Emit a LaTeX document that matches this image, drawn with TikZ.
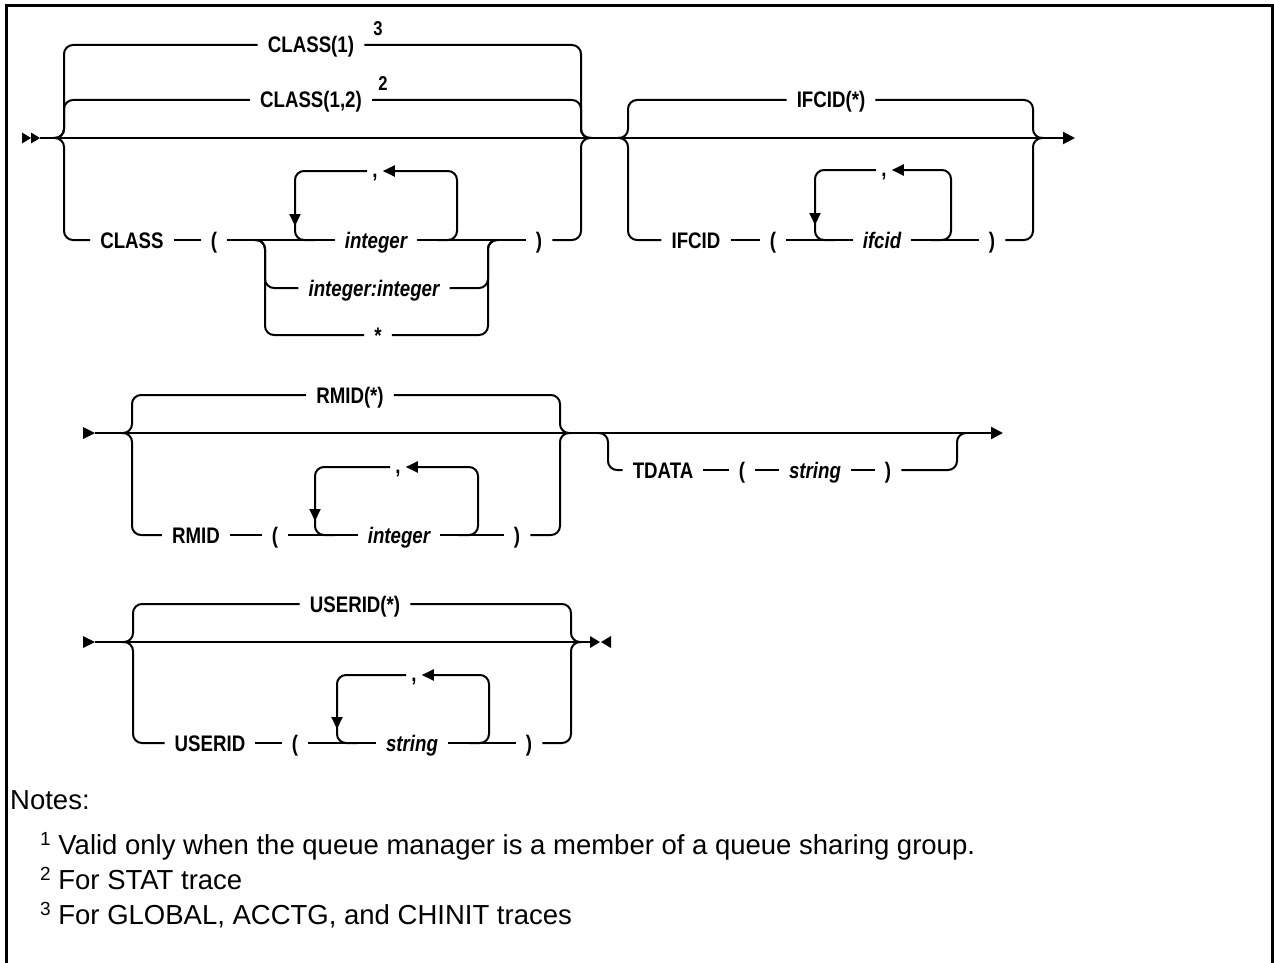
\documentclass[tikz,border=0pt]{standalone}
\usepackage{fontspec}
\setmainfont{Liberation Sans}
\newfontfamily\lblfont[FakeStretch=0.83]{Liberation Sans}
\usetikzlibrary{arrows.meta}
\tikzset{
  rail/.style={line width=2pt, rounded corners=9pt},
  lbl/.style={font=\lblfont\fontsize{22.5}{25}\selectfont\bfseries, text height=16pt, text depth=0pt, inner ysep=0pt, inner xsep=10pt},
  var/.style={lbl, font=\lblfont\fontsize{22.5}{25}\selectfont\bfseries\itshape},
  supl/.style={font=\lblfont\fontsize{20}{20}\selectfont\bfseries, inner sep=0pt},
  commalbl/.style={font=\lblfont\fontsize{22.5}{25}\selectfont\bfseries, text height=12pt, text depth=0pt, inner ysep=0pt, inner xsep=5pt},
  looptip/.style={-{Triangle[length=12pt,width=11pt]}},
  endtip/.style={-{Triangle[length=12pt,width=12pt]}},
  note/.style={font=\fontsize{27.5}{30}\selectfont, anchor=west, inner sep=0pt, text height=19pt, text depth=0pt},
  frame/.style={line width=3pt}
}
\newcommand{\notesup}[1]{\raisebox{9pt}{\fontsize{19}{19}\selectfont #1}}
\begin{document}
\begin{tikzpicture}[x=1pt,y=-1pt]
\useasboundingbox (0,0) rectangle (1274,963);
\draw[frame] (6,963) -- (6,6) -- (1272,6) -- (1272,963);

% ================= Row 1 =================
\coordinate (s1) at (40,138);
\coordinate (e1) at (1075,138);
\fill (22,132.5) -- (31,138) -- (22,143.5) -- cycle;
\fill (31,132.5) -- (40,138) -- (31,143.5) -- cycle;
\draw[line width=2pt, endtip] (s1) -- (e1);

% CLASS group
\coordinate (cj1) at (54,138);
\coordinate (cj2) at (591,138);
\node[lbl] (c1) at (311,45) {CLASS(1)};
\node[supl] (n3) at (378,29) {3};
\node[lbl] (c12) at (311,100) {CLASS(1,2)};
\node[supl] (n2) at (383,84) {2};
\node[lbl] (cls) at (132,240) {CLASS};
\node[lbl] (cpo) at (214,240) {(};
\node[var] (int1) at (376,240) {integer};
\node[var] (ii) at (374,288) {integer:integer};
\node[lbl] (st) at (378,335) {*};
\node[lbl] (cpc) at (539,240) {)};
\node[commalbl] (cm1) at (375,171) {,};
\coordinate (aj1) at (255,240);
\coordinate (aj2) at (498,240);

\draw[rail] (cj1) -| (64,45) -- (c1.west);
\draw[rail] (c1.east) -| (581,138) -- (cj2);
\draw[rail] (cj1) -| (64,100) -- (c12.west);
\draw[rail] (c12.east) -| (581,138) -- (cj2);
\draw[rail] (cj1) -| (64,240) -- (cls.west);
\draw[rail] (cls.east) -- (cpo.west);
\draw[rail] (cpo.east) -- (aj1) -- (int1.west);
\draw[rail] (int1.east) -- (aj2) -- (cpc.west);
\draw[rail] (cpc.east) -| (581,138) -- (cj2);
\draw[rail] (aj1) -| (265,288) -- (ii.west);
\draw[rail] (ii.east) -| (488,240) -- (aj2);
\draw[rail] (aj1) -| (265,335) -- (st.west);
\draw[rail] (st.east) -| (488,240) -- (aj2);
% repeat loop
\draw[rail, looptip] (437,240) -| (457,171) -- (cm1.east);
\draw[rail] (cm1.west) -| (295,240) -- (315,240);
\draw[line width=2pt, looptip] (295,204) -- (295,226);

% IFCID group
\coordinate (ij1) at (618,138);
\coordinate (ij2) at (1043,138);
\node[lbl] (if1) at (831,100) {IFCID(*)};
\node[lbl] (ifc) at (696,240) {IFCID};
\node[lbl] (ifpo) at (773,240) {(};
\node[var] (ifv) at (882,240) {ifcid};
\node[lbl] (ifpc) at (992,240) {)};
\node[commalbl] (cm2) at (884,170) {,};
\draw[rail] (ij1) -| (628,100) -- (if1.west);
\draw[rail] (if1.east) -| (1033,138) -- (ij2);
\draw[rail] (ij1) -| (628,240) -- (ifc.west);
\draw[rail] (ifc.east) -- (ifpo.west);
\draw[rail] (ifpo.east) -- (ifv.west);
\draw[rail] (ifv.east) -- (ifpc.west);
\draw[rail] (ifpc.east) -| (1033,138) -- (ij2);
\draw[rail, looptip] (931,240) -| (951,170) -- (cm2.east);
\draw[rail] (cm2.west) -| (815,240) -- (835,240);
\draw[line width=2pt, looptip] (815,203) -- (815,225);

% ================= Row 2 =================
\coordinate (s2) at (95,433);
\coordinate (e2) at (1003,433);
\fill (83,427) -- (95,433) -- (83,439) -- cycle;
\draw[line width=2pt, endtip] (s2) -- (e2);

% RMID group
\coordinate (rj1) at (122,433);
\coordinate (rj2) at (570,433);
\node[lbl] (rm1) at (350,395) {RMID(*)};
\node[lbl] (rmid) at (196,535) {RMID};
\node[lbl] (rpo) at (275,535) {(};
\node[var] (rint) at (399,535) {integer};
\node[lbl] (rpc) at (517,535) {)};
\node[commalbl] (cm3) at (398,467) {,};
\draw[rail] (rj1) -| (132,395) -- (rm1.west);
\draw[rail] (rm1.east) -| (560,433) -- (rj2);
\draw[rail] (rj1) -| (132,535) -- (rmid.west);
\draw[rail] (rmid.east) -- (rpo.west);
\draw[rail] (rpo.east) -- (rint.west);
\draw[rail] (rint.east) -- (rpc.west);
\draw[rail] (rpc.east) -| (560,433) -- (rj2);
\draw[rail, looptip] (458,535) -| (478,467) -- (cm3.east);
\draw[rail] (cm3.west) -| (315,535) -- (335,535);
\draw[line width=2pt, looptip] (315,499) -- (315,521);

% TDATA group
\coordinate (tj1) at (598,433);
\coordinate (tj2) at (967,433);
\node[lbl] (td) at (663,470) {TDATA};
\node[lbl] (tpo) at (742,470) {(};
\node[var] (tstr) at (815,470) {string};
\node[lbl] (tpc) at (888,470) {)};
\draw[rail] (tj1) -| (608,470) -- (td.west);
\draw[rail] (td.east) -- (tpo.west);
\draw[rail] (tpo.east) -- (tstr.west);
\draw[rail] (tstr.east) -- (tpc.west);
\draw[rail] (tpc.east) -| (957,433) -- (tj2);

% ================= Row 3 =================
\coordinate (s3) at (95,642);
\coordinate (e3) at (590,642);
\fill (83,636) -- (95,642) -- (83,648) -- cycle;
\draw[line width=2pt] (s3) -- (e3);
\fill (590,636) -- (600,642) -- (590,648) -- cycle;
\fill (611,636) -- (601,642) -- (611,648) -- cycle;

\coordinate (uj1) at (123,642);
\coordinate (uj2) at (581,642);
\node[lbl] (us1) at (355,604) {USERID(*)};
\node[lbl] (usr) at (210,743) {USERID};
\node[lbl] (upo) at (295,743) {(};
\node[var] (ustr) at (412,743) {string};
\node[lbl] (upc) at (529,743) {)};
\node[commalbl] (cm4) at (414,675) {,};
\draw[rail] (uj1) -| (133,604) -- (us1.west);
\draw[rail] (us1.east) -| (571,642) -- (uj2);
\draw[rail] (uj1) -| (133,743) -- (usr.west);
\draw[rail] (usr.east) -- (upo.west);
\draw[rail] (upo.east) -- (ustr.west);
\draw[rail] (ustr.east) -- (upc.west);
\draw[rail] (upc.east) -| (571,642) -- (uj2);
\draw[rail, looptip] (469,743) -| (489,675) -- (cm4.east);
\draw[rail] (cm4.west) -| (337,743) -- (357,743);
\draw[line width=2pt, looptip] (337,707) -- (337,729);

% ================= Notes =================
\node[note] (nt) at (10,800) {Notes:};
\node[note] (n1) at (40,845) {\notesup{1} Valid only when the queue manager is a member of a queue sharing group.};
\node[note] (nn2) at (40,880) {\notesup{2} For STAT trace};
\node[note] (nn3) at (40,915) {\notesup{3} For GLOBAL, ACCTG, and CHINIT traces};
\end{tikzpicture}
\end{document}
